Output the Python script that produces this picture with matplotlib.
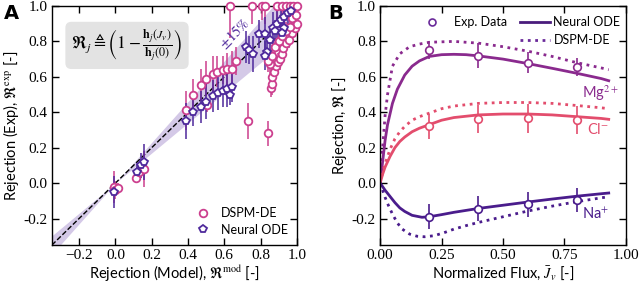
import numpy as np
import matplotlib
matplotlib.use('Agg')
import matplotlib.pyplot as plt

plt.rcParams['font.family'] = ['Lato', 'DejaVu Sans']
plt.rcParams['mathtext.fontset'] = 'stix'

# ------------------ panel A data: (model, exp, err) ------------------
dspm_x = [-0.01, 0.0, 0.015, 0.115, 0.13, 0.155,
          0.39, 0.43, 0.47, 0.50, 0.535, 0.56, 0.59, 0.615, 0.64, 0.505, 0.665,
          0.73, 0.84,
          0.855, 0.86, 0.865, 0.875, 0.885, 0.895, 0.905, 0.915, 0.925, 0.94, 0.955, 0.97,
          0.99, 1.0, 0.975, 0.995, 0.85, 0.84, 0.865, 0.88, 0.90, 0.92, 0.94, 0.96,
          0.63, 0.75, 0.81, 0.825, 0.89, 0.92, 0.94, 0.96, 0.98, 1.0]
dspm_y = [-0.02, -0.04, -0.03, 0.03, 0.06, 0.08,
          0.41, 0.50, 0.555, 0.59, 0.615, 0.63, 0.64, 0.645, 0.645, 0.44, 0.69,
          0.35, 0.28,
          0.535, 0.56, 0.60, 0.63, 0.66, 0.685, 0.70, 0.73, 0.76, 0.79, 0.81, 0.845,
          0.875, 0.90, 0.93, 0.95, 0.67, 0.69, 0.72, 0.77, 0.80, 0.83, 0.86, 0.88,
          1.0, 1.0, 1.0, 1.0, 1.0, 1.0, 1.0, 1.0, 1.0, 1.0]
dspm_e = [0.09, 0.05, 0.03, 0.03, 0.05, 0.10,
          0.11, 0.09, 0.09, 0.10, 0.10, 0.09, 0.08, 0.09, 0.10, 0.04, 0.08,
          0.10, 0.07,
          0.05, 0.06, 0.06, 0.05, 0.06, 0.05, 0.06, 0.05, 0.05, 0.05, 0.05, 0.05,
          0.04, 0.04, 0.03, 0.03, 0.07, 0.06, 0.06, 0.05, 0.05, 0.05, 0.05, 0.04,
          0.18, 0.10, 0.08, 0.10, 0.08, 0.06, 0.08, 0.05, 0.06, 0.04]

node_x = [-0.01, 0.12, 0.14, 0.155,
          0.39, 0.43, 0.47, 0.50, 0.535, 0.565, 0.59, 0.615, 0.64, 0.63,
          0.72, 0.735, 0.76, 0.79, 0.825, 0.835, 0.825, 0.85, 0.87, 0.89, 0.91,
          0.93, 0.95, 0.965, 0.93, 0.92, 0.88]
node_y = [-0.05, 0.06, 0.10, 0.12,
          0.35, 0.40, 0.43, 0.46, 0.49, 0.51, 0.52, 0.53, 0.54, 0.50,
          0.77, 0.75, 0.73, 0.84, 0.84, 0.74, 0.72, 0.81, 0.875, 0.90, 0.92,
          0.94, 0.96, 0.97, 0.875, 0.85, 0.86]
node_e = [0.09, 0.05, 0.07, 0.10,
          0.10, 0.08, 0.09, 0.10, 0.09, 0.10, 0.09, 0.10, 0.08, 0.06,
          0.09, 0.08, 0.10, 0.08, 0.10, 0.06, 0.08, 0.07, 0.09, 0.08, 0.08,
          0.07, 0.06, 0.05, 0.05, 0.06, 0.06]

# ------------------ panel B data ------------------
flux_exp = [0.2, 0.4, 0.6, 0.8]
mg_exp, mg_err = [0.75, 0.72, 0.68, 0.655], [0.05, 0.07, 0.06, 0.05]
cl_exp, cl_err = [0.32, 0.36, 0.365, 0.355], [0.07, 0.08, 0.08, 0.08]
na_exp, na_err = [-0.19, -0.145, -0.12, -0.095], [0.07, 0.07, 0.07, 0.07]

mg_ode_x = [0, 0.01, 0.02, 0.03, 0.05, 0.07, 0.1, 0.13, 0.16, 0.2, 0.25, 0.3, 0.35, 0.4, 0.5, 0.6, 0.7, 0.8, 0.9, 0.93]
mg_ode_y = [0, 0.12, 0.24, 0.33, 0.45, 0.53, 0.61, 0.66, 0.69, 0.715, 0.725, 0.727, 0.725, 0.718, 0.70, 0.675, 0.648, 0.62, 0.59, 0.578]
mg_dspm_x = [0, 0.01, 0.02, 0.03, 0.05, 0.08, 0.12, 0.16, 0.2, 0.3, 0.4, 0.5, 0.6, 0.7, 0.8, 0.9, 0.93]
mg_dspm_y = [0, 0.2, 0.38, 0.5, 0.66, 0.73, 0.77, 0.785, 0.795, 0.80, 0.79, 0.77, 0.745, 0.715, 0.68, 0.65, 0.64]

cl_ode_x = [0, 0.01, 0.02, 0.04, 0.06, 0.08, 0.1, 0.13, 0.16, 0.2, 0.25, 0.3, 0.4, 0.5, 0.6, 0.7, 0.8, 0.9, 0.93]
cl_ode_y = [0, 0.05, 0.09, 0.15, 0.2, 0.235, 0.26, 0.29, 0.31, 0.33, 0.355, 0.37, 0.385, 0.39, 0.39, 0.385, 0.375, 0.365, 0.36]
cl_dspm_x = [0, 0.01, 0.02, 0.04, 0.06, 0.08, 0.1, 0.13, 0.16, 0.2, 0.25, 0.3, 0.4, 0.5, 0.6, 0.7, 0.8, 0.9, 0.93]
cl_dspm_y = [0, 0.06, 0.11, 0.19, 0.25, 0.29, 0.32, 0.355, 0.375, 0.395, 0.42, 0.435, 0.45, 0.455, 0.455, 0.45, 0.438, 0.425, 0.42]

na_ode_x = [0, 0.02, 0.04, 0.06, 0.08, 0.1, 0.13, 0.17, 0.2, 0.25, 0.3, 0.4, 0.5, 0.6, 0.7, 0.8, 0.9, 0.93]
na_ode_y = [0, -0.04, -0.075, -0.11, -0.14, -0.16, -0.182, -0.193, -0.19, -0.178, -0.165, -0.143, -0.125, -0.107, -0.09, -0.074, -0.06, -0.056]
na_dspm_x = [0, 0.01, 0.02, 0.03, 0.05, 0.07, 0.09, 0.12, 0.15, 0.18, 0.22, 0.26, 0.3, 0.35, 0.4, 0.5, 0.6, 0.7, 0.8, 0.9, 0.93]
na_dspm_y = [0, -0.04, -0.08, -0.115, -0.175, -0.225, -0.26, -0.288, -0.30, -0.303, -0.297, -0.28, -0.26, -0.24, -0.222, -0.19, -0.158, -0.13, -0.105, -0.083, -0.077]

pink = '#cc3f8e'
purple = '#4f2a9c'
c_mg, c_cl, c_na = '#8a2a8e', '#e34d6d', '#4a1c8c'

fig = plt.figure(figsize=(6.4, 2.84), dpi=100)
axA = fig.add_axes([0.081, 0.137, 0.383, 0.842])
axB = fig.add_axes([0.594, 0.137, 0.384, 0.842])

# ------------------ panel A ------------------
band_x = np.array([-0.35, 0.95])
axA.fill_between(band_x, band_x * 0.85, band_x * 1.15, color='#b8a5d8', alpha=0.6, lw=0, zorder=1)
axA.plot([-0.35, 1.0], [-0.35, 1.0], 'k--', lw=1, zorder=2)

for xs, ys, es, col, mk, lab in [(dspm_x, dspm_y, dspm_e, pink, 'o', 'DSPM-DE'),
                                 (node_x, node_y, node_e, purple, 'p', 'Neural ODE')]:
    axA.errorbar(xs, ys, yerr=es, fmt='none', ecolor=col, elinewidth=1.3, alpha=0.85, zorder=3)
    axA.plot(xs, ys, mk, ms=5.5 if mk == 'o' else 6, mfc='white', mec=col, mew=1.3,
             ls='none', clip_on=False, zorder=4, label=lab)

axA.text(0.655, 0.845, r'$\pm15\%$', color=purple, rotation=45, fontsize=10.5,
         ha='center', va='center', zorder=5)
axA.text(0.08, 0.835, r'$\Re_j \triangleq \left(1 - \frac{\mathbf{h}_j(J_v)}{\mathbf{h}_j(0)}\right)$',
         transform=axA.transAxes, fontsize=12.5, ha='left', va='center',
         bbox=dict(boxstyle='round,pad=0.35', fc='#e3e3e3', ec='none'))
axA.set_xlim(-0.35, 1.0)
axA.set_ylim(-0.35, 1.0)
axA.set_xticks(np.arange(-0.2, 1.01, 0.2))
axA.set_yticks(np.arange(-0.2, 1.01, 0.2))
axA.set_xlabel(r'Rejection (Model), $\Re^{\rm mod}$ [-]', fontsize=10.5, labelpad=1)
axA.set_ylabel(r'Rejection (Exp), $\Re^{\rm exp}$ [-]', fontsize=10.5, labelpad=2)
axA.legend(loc='lower right', frameon=False, fontsize=9, handletextpad=0.4,
           borderaxespad=0.35, labelspacing=0.35)

# ------------------ panel B ------------------
for ode_x, ode_y, ds_x, ds_y, ye, ee, col in [
        (mg_ode_x, mg_ode_y, mg_dspm_x, mg_dspm_y, mg_exp, mg_err, c_mg),
        (cl_ode_x, cl_ode_y, cl_dspm_x, cl_dspm_y, cl_exp, cl_err, c_cl),
        (na_ode_x, na_ode_y, na_dspm_x, na_dspm_y, na_exp, na_err, c_na)]:
    axB.plot(ode_x, ode_y, '-', color=col, lw=2)
    axB.plot(ds_x, ds_y, ':', color=col, lw=2)
    axB.errorbar(flux_exp, ye, yerr=ee, fmt='o', ms=5.5, mfc='white', mec=col, mew=1.2,
                 ecolor=col, elinewidth=1.2, zorder=4)

axB.text(0.97, 0.51, r'Mg$^{2+}$', color=c_mg, fontsize=10.5, ha='right', va='center')
axB.text(0.93, 0.30, r'Cl$^{-}$', color=c_cl, fontsize=10.5, ha='right', va='center')
axB.text(0.93, -0.175, r'Na$^{+}$', color=c_na, fontsize=10.5, ha='right', va='center')

# legend of panel B, laid out by hand in axes fraction
tr = axB.transAxes
axB.plot([0.21], [0.933], 'o', ms=5, mfc='white', mec='#6a2a9a', mew=1.2, transform=tr)
axB.text(0.30, 0.933, 'Exp. Data', fontsize=9, va='center', ha='left', transform=tr)
axB.plot([0.57, 0.69], [0.933, 0.933], '-', color='#4a1c7c', lw=2, transform=tr)
axB.text(0.705, 0.933, 'Neural ODE', fontsize=9, va='center', ha='left', transform=tr)
axB.plot([0.57, 0.69], [0.858, 0.858], ':', color='#6a2a9a', lw=2, transform=tr)
axB.text(0.705, 0.858, 'DSPM-DE', fontsize=9, va='center', ha='left', transform=tr)

axB.set_xlim(0, 1.0)
axB.set_ylim(-0.35, 1.0)
axB.set_xticks([0, 0.25, 0.5, 0.75, 1.0])
axB.set_xticklabels(['0.00', '0.25', '0.50', '0.75', '1.00'])
axB.set_yticks(np.arange(-0.2, 1.01, 0.2))
axB.set_xlabel(r'Normalized Flux, $\bar{J}_v$ [-]', fontsize=10.5, labelpad=1)
axB.set_ylabel(r'Rejection, $\Re$ [-]', fontsize=10.5, labelpad=2)

for ax in (axA, axB):
    ax.tick_params(direction='in', top=True, right=True, length=5, width=1, pad=3)
    for lbl in ax.get_xticklabels() + ax.get_yticklabels():
        lbl.set_fontfamily('Liberation Serif')
        lbl.set_fontsize(11)
    for sp in ax.spines.values():
        sp.set_linewidth(1)
    ax.yaxis.set_major_formatter(matplotlib.ticker.FormatStrFormatter('%.1f'))

fig.text(0.006, 0.985, 'A', fontsize=14, fontweight='bold', va='top', family='DejaVu Sans')
fig.text(0.513, 0.985, 'B', fontsize=14, fontweight='bold', va='top', family='DejaVu Sans')

fig.savefig('out.png', dpi=100)
